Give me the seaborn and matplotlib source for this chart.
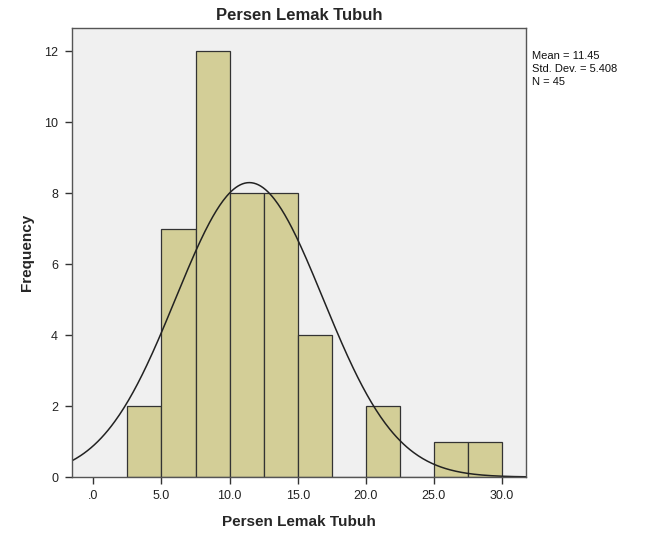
import numpy as np
import pandas as pd
import matplotlib
matplotlib.use("Agg")
import matplotlib.pyplot as plt
import seaborn as sns

# Data
bin_edges = [2.5, 5.0, 7.5, 10.0, 12.5, 15.0, 17.5, 20.0, 22.5, 25.0, 27.5, 30.0]
counts = [2, 7, 12, 8, 8, 4, 0, 2, 0, 1, 1]
mean_val = 11.45
std_val = 5.408
n_val = 45
x_ticks = [0, 5, 10, 15, 20, 25, 30]
x_tick_labels = [".0", "5.0", "10.0", "15.0", "20.0", "25.0", "30.0"]
y_ticks = [0, 2, 4, 6, 8, 10, 12]

sns.set_style("white")
plt.rcParams['font.family'] = ['Liberation Sans', 'DejaVu Sans']

centers = [(a + b) / 2 for a, b in zip(bin_edges[:-1], bin_edges[1:])]
df = pd.DataFrame({"x": centers, "w": counts})

fig = plt.figure(figsize=(6.48, 5.33), dpi=100)
ax = fig.add_axes([0.111, 0.105, 0.701, 0.842])
ax.set_facecolor("#f0f0f0")

sns.histplot(data=df, x="x", weights="w", bins=bin_edges, ax=ax,
             color="#d3ce97", edgecolor="#333333", linewidth=0.9, alpha=1)

# Fitted normal curve (SPSS style), scaled by N * bin width
bw = bin_edges[1] - bin_edges[0]
xs = np.linspace(-1.6, 31.8, 400)
ys = n_val * bw * np.exp(-0.5 * ((xs - mean_val) / std_val) ** 2) / (std_val * np.sqrt(2 * np.pi))
sns.lineplot(x=xs, y=ys, ax=ax, color="#222222", linewidth=1.1)

ax.set_xlim(-1.57, 31.77)
ax.set_ylim(0, 12.65)
ax.set_xticks(x_ticks)
ax.set_xticklabels(x_tick_labels)
ax.set_yticks(y_ticks)
ax.tick_params(axis="both", direction="out", length=5, width=1, labelsize=9,
               colors="#333333", labelcolor="#222222", bottom=True, left=True)
ax.tick_params(axis="y", pad=5)
ax.tick_params(axis="x", pad=4)
for s in ax.spines.values():
    s.set_color("#555555")
    s.set_linewidth(1.0)

ax.set_xlabel("Persen Lemak Tubuh", fontsize=11, fontweight="bold", labelpad=10)
ax.set_ylabel("Frequency", fontsize=11, fontweight="bold", labelpad=7)
ax.set_title("Persen Lemak Tubuh", fontsize=12, fontweight="bold", pad=6)

fig.text(532 / 648, 1 - 51 / 533,
         f"Mean = {mean_val}\nStd. Dev. = {std_val}\nN = {n_val}",
         fontsize=8, va="top", ha="left", linespacing=1.35, color="#111111")

fig.savefig("out.png", dpi=100, facecolor="white")
